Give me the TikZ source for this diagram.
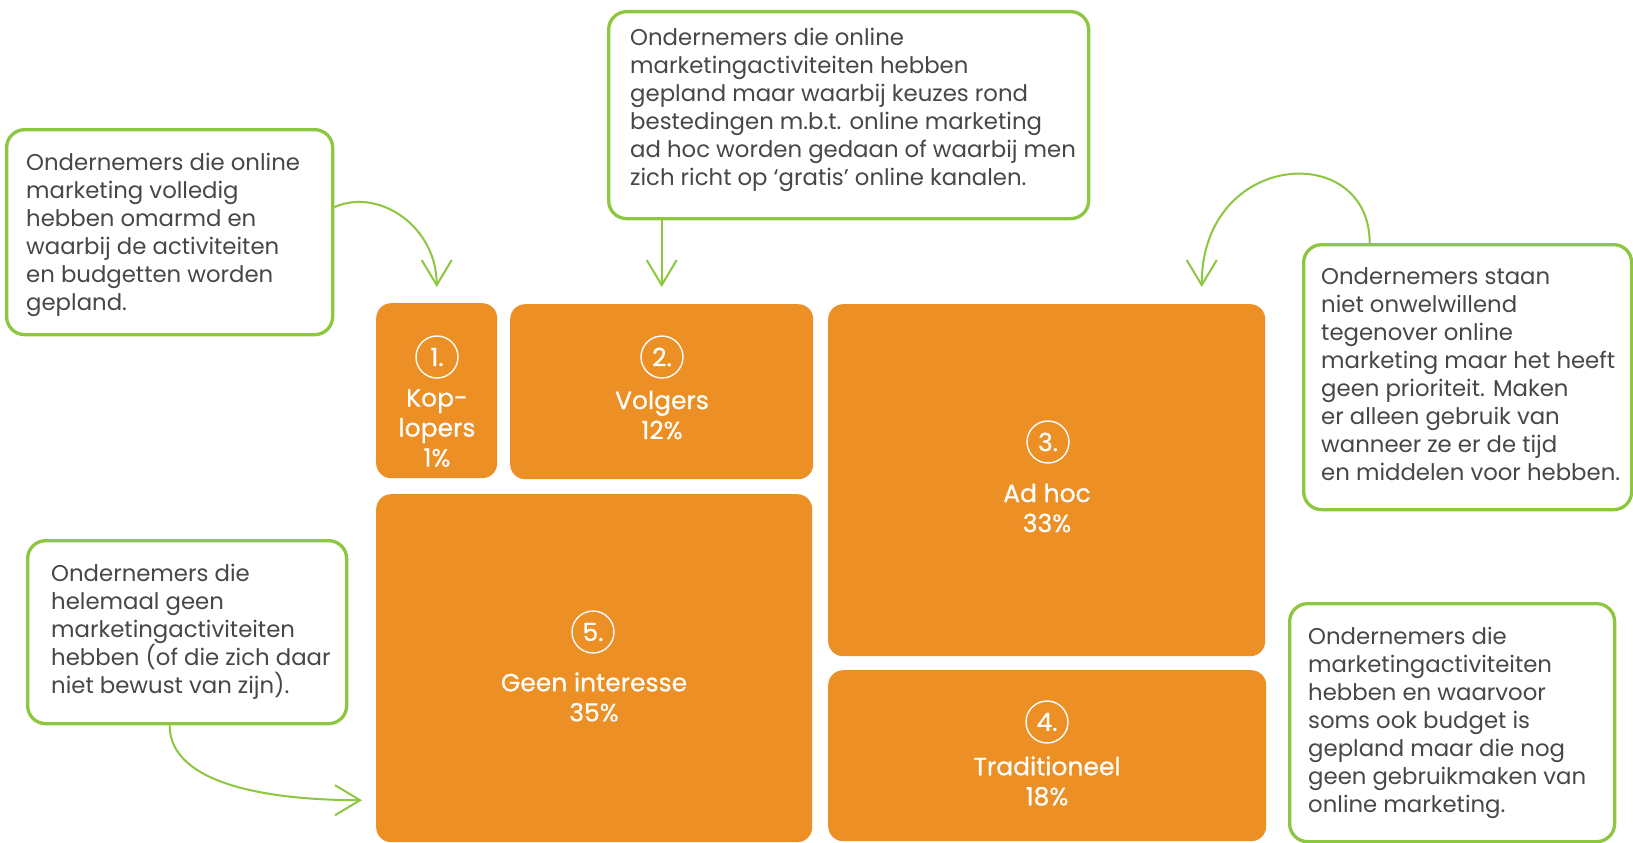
\documentclass[tikz,border=0pt]{standalone}
\usepackage{fontspec}
\setmainfont{Poppins}
\newfontfamily\labfont[FakeBold=0.6]{Poppins}
\usetikzlibrary{arrows.meta}
\definecolor{gr}{HTML}{8DC63F}
\definecolor{org}{HTML}{EC8F25}
\definecolor{txt}{HTML}{474747}
\begin{document}
\begin{tikzpicture}[x=1pt,y=-1pt,
 gbox/.style={draw=gr, line width=3.3pt, rounded corners=18pt, fill=white, inner sep=0pt, anchor=north west},
 gtext/.style={align=left, text=txt, font=\fontsize{22.8}{28}\selectfont, inner sep=0pt, anchor=west},
 obox/.style={fill=org, rounded corners=15pt, anchor=north west, inner sep=0pt},
 num/.style={circle, draw=white, line width=1.4pt, minimum size=42pt, inner sep=0pt, text=white,
   font=\labfont\fontsize{25}{25}\selectfont},
 lab/.style={text=white, align=center, inner sep=0pt, font=\labfont\fontsize{25}{30}\selectfont},
 garrow/.style={draw=gr, line width=2pt, -{Straight Barb[length=25pt,width=30pt,line width=2pt]}}
]
\useasboundingbox (0,0) rectangle (1633,843);
\fill[white] (0,0) rectangle (1633,843);

% orange blocks
\node[obox, minimum width=121pt, minimum height=175pt] (b1) at (376,303) {};
\node[obox, minimum width=303pt, minimum height=175pt] (b2) at (510,304) {};
\node[obox, minimum width=437pt, minimum height=352pt] (b3) at (828,304) {};
\node[obox, minimum width=438pt, minimum height=171pt] (b4) at (828,670) {};
\node[obox, minimum width=436pt, minimum height=348pt] (b5) at (376,494) {};

\node[num] (c1) at (437,357) {1.};
\node[num] (c2) at (662,357) {2.};
\node[num] (c3) at (1048,442) {3.};
\node[num] (c4) at (1047,722) {4.};
\node[num] (c5) at (593,632) {5.};

\node[lab] (l1) at (437,428) {Kop-\\lopers\\1\%};
\node[lab] (l2) at (662,415) {Volgers\\12\%};
\node[lab] (l3) at (1047,508) {Ad hoc\\33\%};
\node[lab] (l4) at (1047,781) {Traditioneel\\18\%};
\node[lab] (l5) at (594,697) {Geen interesse\\35\%};

% green description boxes
\node[gbox, minimum width=326pt, minimum height=205pt] (a) at (5,128) {};
\node[gbox, minimum width=480pt, minimum height=207pt] (b) at (607,10) {};
\node[gbox, minimum width=328pt, minimum height=265pt] (c) at (1302,243) {};
\node[gbox, minimum width=319pt, minimum height=183pt] (d) at (26,539) {};
\node[gbox, minimum width=325pt, minimum height=238pt] (e) at (1288,602) {};

\node[gtext] (ta) at ([xshift=21pt,yshift=-3pt]a.west)
 {Ondernemers die online\\marketing volledig\\hebben omarmd en\\waarbij de activiteiten\\en budgetten worden\\gepland.};
\node[gtext] (tb) at ([xshift=23pt,yshift=5pt]b.west)
 {Ondernemers die online\\marketingactiviteiten hebben\\gepland maar waarbij keuzes rond\\bestedingen m.b.t. online marketing\\ad hoc worden gedaan of waarbij men\\zich richt op ‘gratis’ online kanalen.};
\node[gtext] (tc) at ([xshift=19pt,yshift=3pt]c.west)
 {Ondernemers staan\\niet onwelwillend\\tegenover online\\marketing maar het heeft\\geen prioriteit. Maken\\er alleen gebruik van\\wanneer ze er de tijd\\en middelen voor hebben.};
\node[gtext] (td) at ([xshift=25pt]d.west)
 {Ondernemers die\\helemaal geen\\marketingactiviteiten\\hebben (of die zich daar\\niet bewust van zijn).};
\node[gtext] (te) at ([xshift=20pt]e.west)
 {Ondernemers die\\marketingactiviteiten\\hebben en waarvoor\\soms ook budget is\\gepland maar die nog\\geen gebruikmaken van\\online marketing.};

% connectors
\draw[garrow] ([yshift=25pt]a.east) .. controls +(45,-20) and +(0,-60) .. ([yshift=16pt]b1.north);
\draw[garrow] (b2.north |- b.south) -- ([yshift=17pt]b2.north);
\draw[garrow] ([xshift=-98pt]c.north) .. controls +(0,-103) and +(0,-137) .. ([xshift=155pt,yshift=17pt]b3.north);
\draw[garrow] ([xshift=-17.5pt]d.south) .. controls +(0,60) and +(-90,0) .. ([xshift=-14pt,yshift=-132pt]b5.west);
\end{tikzpicture}
\end{document}
